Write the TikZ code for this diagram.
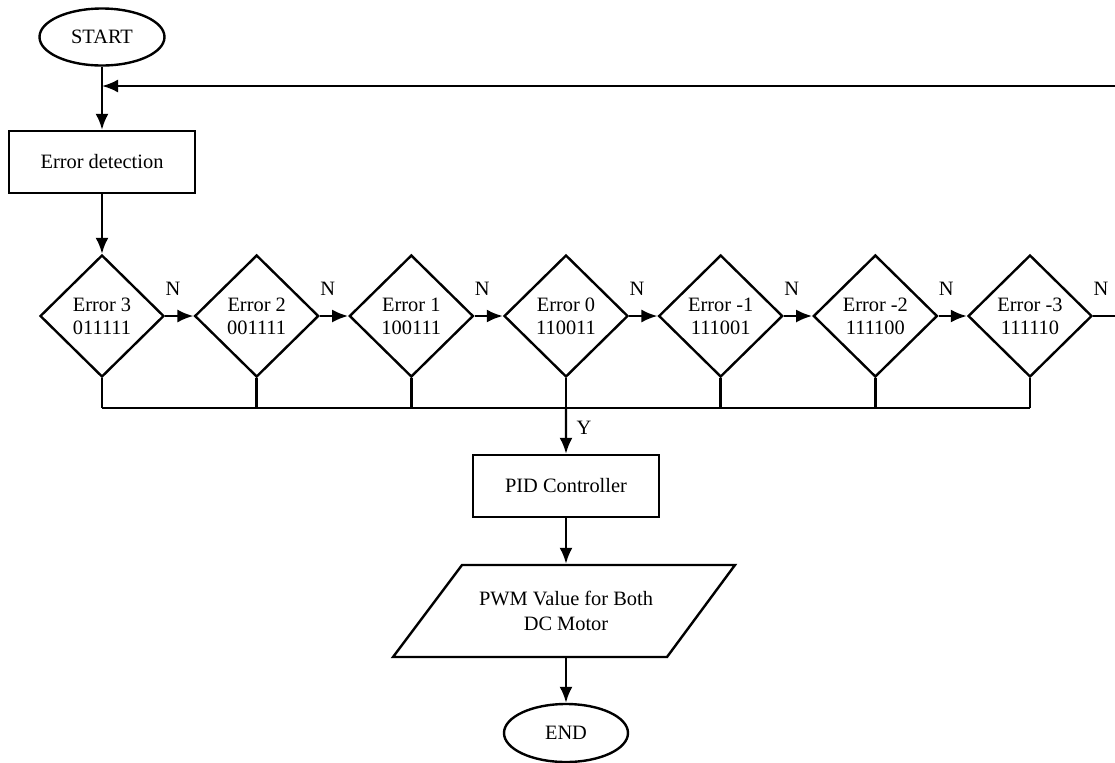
\documentclass[tikz,border=0pt]{standalone}
\usepackage{fontspec}
\setmainfont{Liberation Serif}
\usetikzlibrary{shapes.geometric,arrows.meta}
\begin{document}
\begin{tikzpicture}[x=0.5pt,y=-0.5pt, line width=1.2pt,
  >={Latex[length=8pt,width=6.5pt]},
  every node/.style={font=\fontsize{10.2}{11.5}\selectfont, align=center, inner sep=0pt},
  term/.style={draw, ellipse, minimum width=62.5pt, minimum height=28.5pt},
  proc/.style={draw, rectangle, minimum width=93pt, minimum height=31pt},
  dec/.style={draw, diamond, minimum width=62pt, minimum height=61pt},
  lbl/.style={font=\fontsize{10.2}{12}\selectfont}]
\useasboundingbox (0,0) rectangle (1115,762);

\node[term] (start) at (102,37) {START};
\coordinate (j) at (102,86);
\node[proc] (det) at (102,162) {Error detection};

\foreach \i/\t/\c in {1/Error 3/011111, 2/Error 2/001111, 3/Error 1/100111, 4/Error 0/110011,
                      5/Error -1/111001, 6/Error -2/111100, 7/Error -3/111110} {
  \node[dec] (d\i) at ({102+154.67*(\i-1)},316) {\t\\\c};
  \coordinate (b\i) at ({102+154.67*(\i-1)},408);
  \node[lbl] (n\i) at ({173+154.67*(\i-1)},289) {N};
}

\node[proc] (pid) at (566,486) {PID Controller};
\node[minimum width=136.5pt, minimum height=46pt, font=\fontsize{10.2}{12.5}\selectfont] (pwm) at (566,611) {PWM Value for Both\\DC Motor};
\draw ([shift={(-104,-46)}]pwm.center) -- ([shift={(169,-46)}]pwm.center)
   -- ([shift={(101,46)}]pwm.center) -- ([shift={(-173,46)}]pwm.center) -- cycle;
\node[term, minimum width=62pt, minimum height=29pt] (end) at (566,733) {END};
\node[lbl] (y) at (584,428) {Y};

\coordinate (re) at (1122,316);
\coordinate (rt) at (1122,86);

\draw[->] (start) -- (det);
\draw[->] (det) -- (d1);
\foreach \i [evaluate=\i as \k using int(\i+1)] in {1,...,6} {
  \draw[->] (d\i.east) -- (d\k.west);
}
\draw[->] (d7.east) -- (re) -- (rt) -- (j);
\foreach \i in {1,...,7} { \draw (d\i.south) -- (b\i); }
\draw (b1) -- (b7);
\draw[->] (b4) -- (pid);
\draw[->] (pid) -- (pwm);
\draw[->] (pwm) -- (end);
\end{tikzpicture}
\end{document}
